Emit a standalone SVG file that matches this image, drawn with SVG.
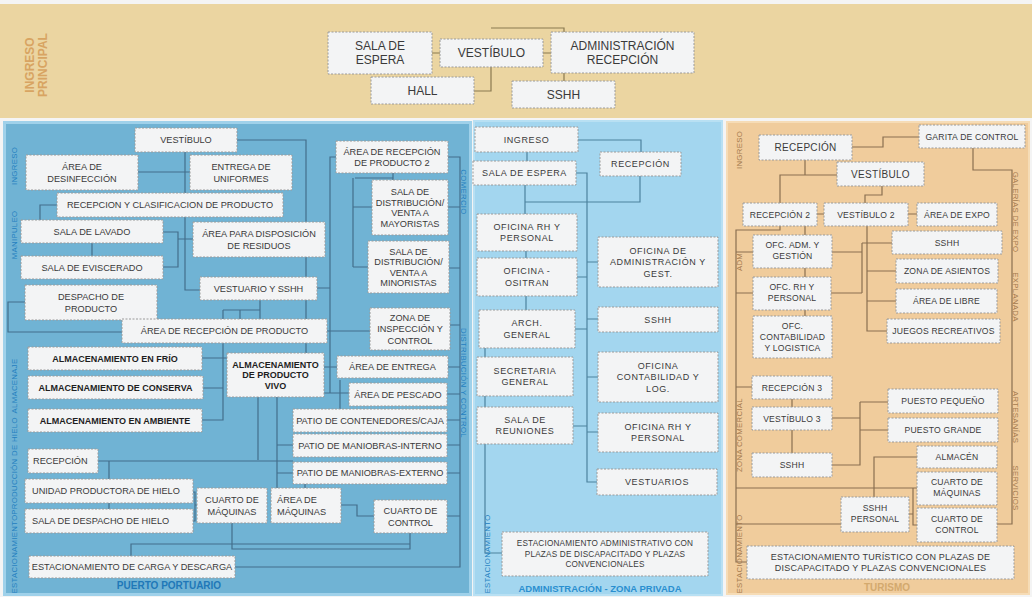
<svg xmlns="http://www.w3.org/2000/svg" width="1032" height="597" viewBox="0 0 1032 597">
<style>
.b{fill:#F3F4F5;stroke:#9A9A9A;stroke-width:1;stroke-dasharray:2 1.5}
.t{font-family:"Liberation Sans",Arial,sans-serif;fill:#3A3A3A;text-anchor:middle}
.h{font-size:12px}
.p{font-size:9.2px}
.pb{font-size:9px;font-weight:bold;fill:#1E1E1E}
.a{font-size:9px;letter-spacing:0.6px}
.a2{font-size:8.2px;letter-spacing:0.2px}
.u{font-size:8.6px;letter-spacing:0.2px}
.u2{font-size:10px;letter-spacing:0.3px}
.l{fill:none;stroke-width:1.2}
.lh{stroke:#8A7A50}
.lp{stroke:#436E8B}
.la{stroke:#4D829E}
.lt{stroke:#8A6F50}
.v{font-family:"Liberation Sans",Arial,sans-serif;text-anchor:middle}
.vp{font-size:7.8px;letter-spacing:0.3px;fill:#2480C0}
.vt{font-size:7.8px;letter-spacing:0.3px;fill:#A57A4E}
</style>
<rect x="0" y="0" width="1032" height="597" fill="#F4F4F4"/>
<rect x="0" y="4" width="1032" height="114" fill="#EBD5A1"/>
<rect x="4.5" y="122.5" width="466" height="472" fill="#70B3D4" stroke="#9FD1EA" stroke-width="3"/>
<rect x="474" y="121" width="248" height="474" fill="#A3D6EF" stroke="#B8E0F3" stroke-width="2"/>
<rect x="727" y="122" width="302" height="472" fill="#F0CC9C" stroke="#F6DCB6" stroke-width="2"/>

<g id="connectors">
<g class="l lh">
<path d="M432 53H440M543 53H551M491 67V91H474M564 73V81M491 28H564V32"/>
</g>
<g class="l lp">
<path d="M185 152V290H200M138 172H190M57 205H40V220M92 243V256M163 232H178V267H163M178 239H193"/>
<path d="M25 302H8V332H122"/>
<path d="M237 140H306V353M317 288H330"/>
<path d="M223 310H260M260 300V319M240 310V319M223 310V420H202M203 388H223M202 358H227"/>
<path d="M327 331H370M336 157H330V393M324 367H337M324 393H349M340 380V409"/>
<path d="M393 173V180M355 178H393M353 178V267M353 207H372M353 267H368"/>
<path d="M448 157H460V567H235"/>
<path d="M448 207H460M449 268H460M450 325H460M448 367H460M447 394H460M447 420H460M447 445H460M447 473H460M447 516H460"/>
<path d="M258 397V460M277 397V488M277 445H293M277 473H293M305 484V488"/>
<path d="M98 461H293M109 461V509"/>
<path d="M193 492H195V521H193M195 505H197"/>
<path d="M341 505H357V516H374M410 533V549H232V523M410 544H131V556"/>
</g>
<g class="l la">
<path d="M578 140H641V152M527 152V161M640 176V202H525M525 185V214"/>
<path d="M576 173H587V482H597M587 262H598M587 319H598M587 377H598M587 432H598"/>
<path d="M577 277H587M575 329H587M573 426H587"/>
<path d="M526 251V258M526 296V310M485 348V553H502"/>
</g>
<g class="l lt">
<path d="M852 147H883V137H919M973 148V170H1012V524H997"/>
<path d="M805 160V175M837 175H780V203M882 186V195H865V203M817 214H824M908 214H917"/>
<path d="M780 226V230H736V562H747M805 226V235M805 268V277M805 310V316M736 252H753M736 293H753"/>
<path d="M867 226V331H887M867 271H896M867 301H896"/>
<path d="M832 252H862M831 293H862M862 243V293M862 243H892"/>
<path d="M752 387H736M792 399V407M792 430V453"/>
<path d="M832 418H860M860 402V465H832M860 402H888M860 430H888"/>
<path d="M917 457H874V497M736 488H917M736 524H841M909 514H913M913 488V525H917"/>
</g>
</g>

<g id="ingreso-principal">
<text class="v" font-size="12" font-weight="bold" fill="#D8A462" transform="translate(34,65) rotate(-90)">INGRESO</text>
<text class="v" font-size="12" font-weight="bold" fill="#D8A462" transform="translate(47,65) rotate(-90)">PRINCIPAL</text>
<g id="ip-sala-espera"><rect class="b" x="328" y="32" width="104" height="42"/><text class="t h"><tspan x="380" y="50.3">SALA DE</tspan><tspan x="380" y="64.3">ESPERA</tspan></text></g>
<g id="ip-vestibulo"><rect class="b" x="440" y="39" width="103" height="28"/><text class="t h" x="491.5" y="57.3">VESTÍBULO</text></g>
<g id="ip-admin"><rect class="b" x="551" y="32" width="143" height="41"/><text class="t h"><tspan x="622.5" y="49.8">ADMINISTRACIÓN</tspan><tspan x="622.5" y="63.8">RECEPCIÓN</tspan></text></g>
<g id="ip-hall"><rect class="b" x="371" y="77" width="103" height="27"/><text class="t h" x="422.5" y="94.8">HALL</text></g>
<g id="ip-sshh"><rect class="b" x="512" y="81" width="103" height="27"/><text class="t h" x="563.5" y="98.8">SSHH</text></g>
</g>

<g id="puerto">
<text class="v vp" transform="translate(16.5,166) rotate(-90)">INGRESO</text>
<text class="v vp" transform="translate(16.5,235) rotate(-90)">MANIPULEO</text>
<text class="v vp" transform="translate(16.5,386) rotate(-90)">ALMACENAJE</text>
<text class="v vp" transform="translate(16.5,466) rotate(-90)">PRODUCCIÓN DE HIELO</text>
<text class="v vp" transform="translate(16.5,554) rotate(-90)">ESTACIONAMIENTO</text>
<text class="v vp" transform="translate(460.5,192) rotate(90)">COMERCIO</text>
<text class="v vp" transform="translate(460.5,383) rotate(90)">DISTRIBUCIÓN Y CONTROL</text>
<text class="v" font-size="10" font-weight="bold" fill="#2078B8" x="169" y="589">PUERTO PORTUARIO</text>

<g id="p-vestibulo"><rect class="b" x="135" y="128" width="102" height="24"/><text class="t p" x="186" y="143.3">VESTÍBULO</text></g>
<g id="p-desinfeccion"><rect class="b" x="26" y="155" width="112" height="35"/><text class="t p"><tspan x="82" y="170">ÁREA DE</tspan><tspan x="82" y="181.5">DESINFECCIÓN</tspan></text></g>
<g id="p-uniformes"><rect class="b" x="190" y="155" width="102" height="35"/><text class="t p"><tspan x="241" y="170">ENTREGA DE</tspan><tspan x="241" y="181.5">UNIFORMES</tspan></text></g>
<g id="p-recepcion-clasif"><rect class="b" x="57" y="193" width="226" height="24"/><text class="t p" x="170" y="208.3">RECEPCION Y CLASIFICACION DE PRODUCTO</text></g>
<g id="p-lavado"><rect class="b" x="21" y="220" width="142" height="23"/><text class="t p" x="92" y="234.8">SALA DE LAVADO</text></g>
<g id="p-residuos"><rect class="b" x="193" y="222" width="132" height="35"/><text class="t p"><tspan x="259" y="237">ÁREA PARA DISPOSICIÓN</tspan><tspan x="259" y="248.5">DE RESIDUOS</tspan></text></g>
<g id="p-eviscerado"><rect class="b" x="21" y="256" width="142" height="23"/><text class="t p" x="92" y="270.8">SALA DE EVISCERADO</text></g>
<g id="p-vestuario"><rect class="b" x="200" y="277" width="117" height="23"/><text class="t p" x="258.5" y="291.8">VESTUARIO Y SSHH</text></g>
<g id="p-despacho"><rect class="b" x="25" y="285" width="132" height="35"/><text class="t p"><tspan x="91" y="300">DESPACHO DE</tspan><tspan x="91" y="311.5">PRODUCTO</tspan></text></g>
<g id="p-area-recepcion"><rect class="b" x="122" y="319" width="205" height="24"/><text class="t p" x="224.5" y="334.3">ÁREA DE RECEPCIÓN DE PRODUCTO</text></g>
<g id="p-frio"><rect class="b" x="28" y="347" width="174" height="23"/><text class="t pb" x="115" y="361.7">ALMACENAMIENTO EN FRÍO</text></g>
<g id="p-conserva"><rect class="b" x="28" y="376" width="175" height="23"/><text class="t pb" x="115.5" y="390.7">ALMACENAMIENTO DE CONSERVA</text></g>
<g id="p-ambiente"><rect class="b" x="28" y="409" width="174" height="23"/><text class="t pb" x="115" y="423.7">ALMACENAMIENTO EN AMBIENTE</text></g>
<g id="p-vivo"><rect class="b" x="227" y="353" width="97" height="44"/><text class="t pb"><tspan x="275.5" y="367.7">ALMACENAMIENTO</tspan><tspan x="275.5" y="378.2">DE PRODUCTO</tspan><tspan x="275.5" y="388.7">VIVO</tspan></text></g>
<g id="p-recepcion2"><rect class="b" x="336" y="141" width="112" height="32"/><text class="t p"><tspan x="392" y="154.6">ÁREA DE RECEPCIÓN</tspan><tspan x="392" y="166.1">DE PRODUCTO 2</tspan></text></g>
<g id="p-mayoristas"><rect class="b" x="372" y="180" width="76" height="55"/><text class="t p"><tspan x="410" y="195.2">SALA DE</tspan><tspan x="410" y="205.7">DISTRIBUCIÓN/</tspan><tspan x="410" y="216.2">VENTA A</tspan><tspan x="410" y="226.7">MAYORISTAS</tspan></text></g>
<g id="p-minoristas"><rect class="b" x="368" y="241" width="81" height="52"/><text class="t p"><tspan x="408.5" y="254.7">SALA DE</tspan><tspan x="408.5" y="265.2">DISTRIBUCIÓN/</tspan><tspan x="408.5" y="275.7">VENTA A</tspan><tspan x="408.5" y="286.2">MINORISTAS</tspan></text></g>
<g id="p-inspeccion"><rect class="b" x="370" y="308" width="80" height="42"/><text class="t p"><tspan x="410" y="320.9">ZONA DE</tspan><tspan x="410" y="332.4">INSPECCIÓN Y</tspan><tspan x="410" y="343.9">CONTROL</tspan></text></g>
<g id="p-entrega"><rect class="b" x="337" y="356" width="111" height="22"/><text class="t p" x="392.5" y="370.3">ÁREA DE ENTREGA</text></g>
<g id="p-pescado"><rect class="b" x="349" y="383" width="98" height="23"/><text class="t p" x="398" y="397.8">ÁREA DE PESCADO</text></g>
<g id="p-contenedores"><rect class="b" x="293" y="409" width="154" height="23"/><text class="t p" x="370" y="423.8">PATIO DE CONTENEDORES/CAJA</text></g>
<g id="p-interno"><rect class="b" x="293" y="434" width="154" height="23"/><text class="t p" x="370" y="448.8">PATIO DE MANIOBRAS-INTERNO</text></g>
<g id="p-externo"><rect class="b" x="293" y="462" width="154" height="22"/><text class="t p" x="370" y="476.3">PATIO DE MANIOBRAS-EXTERNO</text></g>
<g id="p-recepcion-hielo"><rect class="b" x="28" y="449" width="70" height="24"/><text class="t p" style="text-anchor:start" x="33" y="464.3">RECEPCIÓN</text></g>
<g id="p-unidad"><rect class="b" x="25" y="479" width="168" height="24"/><text class="t p" style="text-anchor:start" x="32" y="494.3">UNIDAD PRODUCTORA DE HIELO</text></g>
<g id="p-despacho-hielo"><rect class="b" x="25" y="509" width="168" height="24"/><text class="t p" style="text-anchor:start" x="32" y="524.3">SALA DE DESPACHO DE HIELO</text></g>
<g id="p-cuarto-maq"><rect class="b" x="197" y="488" width="70" height="35"/><text class="t p"><tspan x="232" y="503">CUARTO DE</tspan><tspan x="232" y="514.5">MÁQUINAS</tspan></text></g>
<g id="p-area-maq"><rect class="b" x="271" y="488" width="70" height="35"/><text class="t p" style="text-anchor:start"><tspan x="277" y="503">ÁREA DE</tspan><tspan x="277" y="514.5">MÁQUINAS</tspan></text></g>
<g id="p-cuarto-control"><rect class="b" x="374" y="500" width="73" height="33"/><text class="t p"><tspan x="410.5" y="514">CUARTO DE</tspan><tspan x="410.5" y="525.5">CONTROL</tspan></text></g>
<g id="p-estacionamiento"><rect class="b" x="29" y="556" width="206" height="22"/><text class="t p" x="132" y="570.3">ESTACIONAMIENTO DE CARGA Y DESCARGA</text></g>
</g>

<g id="administracion">
<text class="v vp" transform="translate(490,554) rotate(-90)">ESTACIONAMIENTO</text>
<text class="v" font-size="9.5" font-weight="bold" fill="#2A8FD0" x="600" y="592">ADMINISTRACIÓN - ZONA PRIVADA</text>
<g id="a-ingreso"><rect class="b" x="475" y="127" width="103" height="25"/><text class="t a" x="526.5" y="142.7">INGRESO</text></g>
<g id="a-recepcion"><rect class="b" x="600" y="152" width="81" height="24"/><text class="t a" x="640.5" y="167.2">RECEPCIÓN</text></g>
<g id="a-sala-espera"><rect class="b" x="473" y="161" width="103" height="24"/><text class="t a" x="524.5" y="176.2">SALA DE ESPERA</text></g>
<g id="a-rh"><rect class="b" x="477" y="214" width="100" height="37"/><text class="t a"><tspan x="527" y="229.9">OFICINA RH Y</tspan><tspan x="527" y="241.4">PERSONAL</tspan></text></g>
<g id="a-admin-gest"><rect class="b" x="598" y="237" width="120" height="50"/><text class="t a"><tspan x="658" y="253.7">OFICINA DE</tspan><tspan x="658" y="265.2">ADMINISTRACIÓN Y</tspan><tspan x="658" y="276.7">GEST.</tspan></text></g>
<g id="a-ositran"><rect class="b" x="477" y="258" width="100" height="38"/><text class="t a"><tspan x="527" y="274.4">OFICINA -</tspan><tspan x="527" y="285.9">OSITRAN</tspan></text></g>
<g id="a-sshh"><rect class="b" x="598" y="307" width="120" height="25"/><text class="t a" x="658" y="322.7">SSHH</text></g>
<g id="a-arch"><rect class="b" x="479" y="310" width="96" height="38"/><text class="t a"><tspan x="527" y="326.4">ARCH.</tspan><tspan x="527" y="337.9">GENERAL</tspan></text></g>
<g id="a-secretaria"><rect class="b" x="477" y="357" width="96" height="39"/><text class="t a"><tspan x="525" y="373.9">SECRETARIA</tspan><tspan x="525" y="385.4">GENERAL</tspan></text></g>
<g id="a-contabilidad"><rect class="b" x="598" y="352" width="120" height="50"/><text class="t a"><tspan x="658" y="368.7">OFICINA</tspan><tspan x="658" y="380.2">CONTABILIDAD Y</tspan><tspan x="658" y="391.7">LOG.</tspan></text></g>
<g id="a-reuniones"><rect class="b" x="477" y="407" width="96" height="37"/><text class="t a"><tspan x="525" y="422.9">SALA DE</tspan><tspan x="525" y="434.4">REUNIONES</tspan></text></g>
<g id="a-rh2"><rect class="b" x="598" y="413" width="120" height="39"/><text class="t a"><tspan x="658" y="429.9">OFICINA RH Y</tspan><tspan x="658" y="441.4">PERSONAL</tspan></text></g>
<g id="a-vestuarios"><rect class="b" x="597" y="469" width="120" height="26"/><text class="t a" x="657" y="485.2">VESTUARIOS</text></g>
<g id="a-estacionamiento"><rect class="b" x="502" y="532" width="206" height="44"/><text class="t a2"><tspan x="605" y="546.4">ESTACIONAMIENTO ADMINISTRATIVO CON</tspan><tspan x="605" y="556.9">PLAZAS DE DISCAPACITADO Y PLAZAS</tspan><tspan x="605" y="567.4">CONVENCIONALES</tspan></text></g>
</g>

<g id="turismo">
<text class="v vt" transform="translate(742,150) rotate(-90)">INGRESO</text>
<text class="v vt" transform="translate(742,262) rotate(-90)">ADM</text>
<text class="v vt" transform="translate(742,435) rotate(-90)">ZONA COMERCIAL</text>
<text class="v vt" transform="translate(742,554) rotate(-90)">ESTACIONAMIENTO</text>
<text class="v vt" transform="translate(1012.5,212) rotate(90)">GALERÍAS DE EXPO</text>
<text class="v vt" transform="translate(1012.5,297) rotate(90)">EXPLANADA</text>
<text class="v vt" transform="translate(1012.5,417) rotate(90)">ARTESANÍAS</text>
<text class="v vt" transform="translate(1012.5,488) rotate(90)">SERVICIOS</text>
<text class="v" font-size="10" font-weight="bold" fill="#D3A96E" x="887" y="591">TURISMO</text>
<g id="t-recepcion"><rect class="b" x="759" y="135" width="93" height="25"/><text class="t u2" x="805.5" y="151">RECEPCIÓN</text></g>
<g id="t-garita"><rect class="b" x="919" y="125" width="106" height="23"/><text class="t u" x="972" y="139.5">GARITA DE CONTROL</text></g>
<g id="t-vestibulo"><rect class="b" x="837" y="162" width="87" height="24"/><text class="t u2" x="880.5" y="177.5">VESTÍBULO</text></g>
<g id="t-recepcion2"><rect class="b" x="743" y="203" width="74" height="23"/><text class="t u" x="780" y="217.5">RECEPCIÓN 2</text></g>
<g id="t-vestibulo2"><rect class="b" x="824" y="203" width="84" height="23"/><text class="t u" x="866" y="217.5">VESTÍBULO 2</text></g>
<g id="t-expo"><rect class="b" x="917" y="203" width="80" height="23"/><text class="t u" x="957" y="217.5">ÁREA DE EXPO</text></g>
<g id="t-sshh"><rect class="b" x="892" y="231" width="110" height="23"/><text class="t u" x="947" y="245.5">SSHH</text></g>
<g id="t-adm"><rect class="b" x="753" y="235" width="79" height="33"/><text class="t u"><tspan x="792.5" y="248">OFC. ADM. Y</tspan><tspan x="792.5" y="259">GESTIÓN</tspan></text></g>
<g id="t-asientos"><rect class="b" x="896" y="259" width="102" height="24"/><text class="t u" x="947" y="274">ZONA DE ASIENTOS</text></g>
<g id="t-rh"><rect class="b" x="753" y="277" width="78" height="33"/><text class="t u"><tspan x="792" y="290">OFC. RH Y</tspan><tspan x="792" y="301">PERSONAL</tspan></text></g>
<g id="t-libre"><rect class="b" x="896" y="289" width="101" height="24"/><text class="t u" x="946.5" y="304">ÁREA DE LIBRE</text></g>
<g id="t-juegos"><rect class="b" x="887" y="319" width="113" height="24"/><text class="t u" x="943.5" y="334">JUEGOS RECREATIVOS</text></g>
<g id="t-contabilidad"><rect class="b" x="753" y="316" width="79" height="42"/><text class="t u"><tspan x="792.5" y="329">OFC.</tspan><tspan x="792.5" y="340">CONTABILIDAD</tspan><tspan x="792.5" y="351">Y LOGISTICA</tspan></text></g>
<g id="t-recepcion3"><rect class="b" x="752" y="376" width="80" height="23"/><text class="t u" x="792" y="390.5">RECEPCIÓN 3</text></g>
<g id="t-pequeno"><rect class="b" x="888" y="389" width="110" height="24"/><text class="t u" x="943" y="404">PUESTO PEQUEÑO</text></g>
<g id="t-vestibulo3"><rect class="b" x="752" y="407" width="80" height="23"/><text class="t u" x="792" y="421.5">VESTÍBULO 3</text></g>
<g id="t-grande"><rect class="b" x="888" y="418" width="110" height="24"/><text class="t u" x="943" y="433">PUESTO GRANDE</text></g>
<g id="t-sshh3"><rect class="b" x="752" y="453" width="80" height="24"/><text class="t u" x="792" y="468">SSHH</text></g>
<g id="t-almacen"><rect class="b" x="917" y="446" width="80" height="22"/><text class="t u" x="957" y="460">ALMACÉN</text></g>
<g id="t-cuarto-maq"><rect class="b" x="917" y="472" width="80" height="33"/><text class="t u"><tspan x="957" y="485">CUARTO DE</tspan><tspan x="957" y="496">MÁQUINAS</tspan></text></g>
<g id="t-sshh-personal"><rect class="b" x="841" y="497" width="68" height="35"/><text class="t u"><tspan x="875" y="511">SSHH</tspan><tspan x="875" y="522">PERSONAL</tspan></text></g>
<g id="t-cuarto-control"><rect class="b" x="917" y="508" width="80" height="34"/><text class="t u"><tspan x="957" y="521.5">CUARTO DE</tspan><tspan x="957" y="532.5">CONTROL</tspan></text></g>
<g id="t-estacionamiento"><rect class="b" x="747" y="546" width="267" height="33"/><text class="t" font-size="9" letter-spacing="0.2"><tspan x="880.5" y="559.5">ESTACIONAMIENTO TURÍSTICO CON PLAZAS DE</tspan><tspan x="880.5" y="570.5">DISCAPACITADO Y PLAZAS CONVENCIONALES</tspan></text></g>
</g>
</svg>
